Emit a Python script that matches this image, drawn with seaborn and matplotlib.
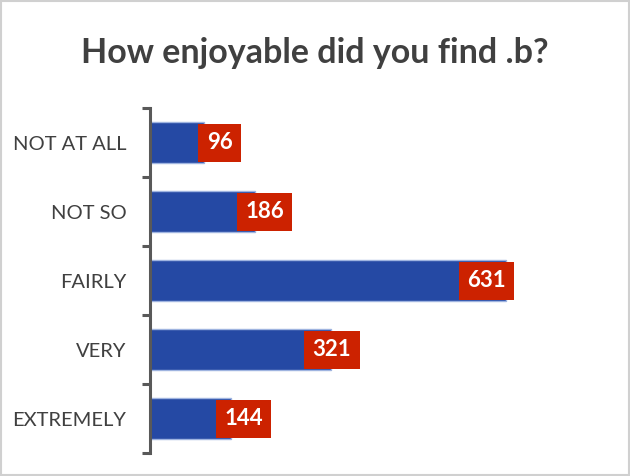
import numpy as np
import pandas as pd
import matplotlib
matplotlib.use('Agg')
import matplotlib.pyplot as plt
import seaborn as sns

answers = ['NOT AT ALL', 'NOT SO', 'FAIRLY', 'VERY', 'EXTREMELY']
counts = [96, 186, 631, 321, 144]
title = 'How enjoyable did you find .b?'

df = pd.DataFrame({'answer': answers, 'count': counts})

sns.set_style('white')
plt.rcParams['font.family'] = ['Lato', 'DejaVu Sans']

fig = plt.figure(figsize=(6.3, 4.76), dpi=100)
ax = fig.add_axes([0.238, 0.048, 0.73, 0.725])

sns.barplot(data=df, y='answer', x='count', orient='h', color='#2549A4',
            width=0.6, edgecolor='#9FB4E0', linewidth=1, saturation=1, ax=ax)

ax.set_xlim(0, 815)
ax.set_ylim(4.5, -0.5)
ax.set_xlabel('')
ax.set_ylabel('')
ax.set_xticks([])

for s in ['top', 'right', 'bottom']:
    ax.spines[s].set_visible(False)
ax.spines['left'].set_color('#595959')
ax.spines['left'].set_linewidth(2.2)

# boundary ticks between categories
ax.set_yticks(np.arange(-0.5, len(answers)), minor=True)
ax.tick_params(axis='y', which='minor', length=6, width=2.2, color='#595959', left=True)
ax.tick_params(axis='y', which='major', length=0, pad=17, labelsize=14.5, labelcolor='#404040')

# value labels in red boxes, sliding from just past the bar end to inside it
for i, v in enumerate(counts):
    off = 22 - 0.066 * v
    ax.annotate(str(v), xy=(v, i), xytext=(off, 0), textcoords='offset pixels',
                ha='center', va='center', color='white', fontsize=16, fontweight='bold',
                bbox=dict(boxstyle='square,pad=0.38', fc='#CC2200', ec='none'))

fig.text(0.5, 0.8666, title, ha='center', va='baseline', fontsize=24.5,
         fontweight='bold', color='#404040')

fig.patches.append(plt.Rectangle((0.002, 0.002), 0.996, 0.996, transform=fig.transFigure,
                                 fill=False, ec='#D0D0D0', lw=1.5))

fig.savefig('out.png', dpi=100)
